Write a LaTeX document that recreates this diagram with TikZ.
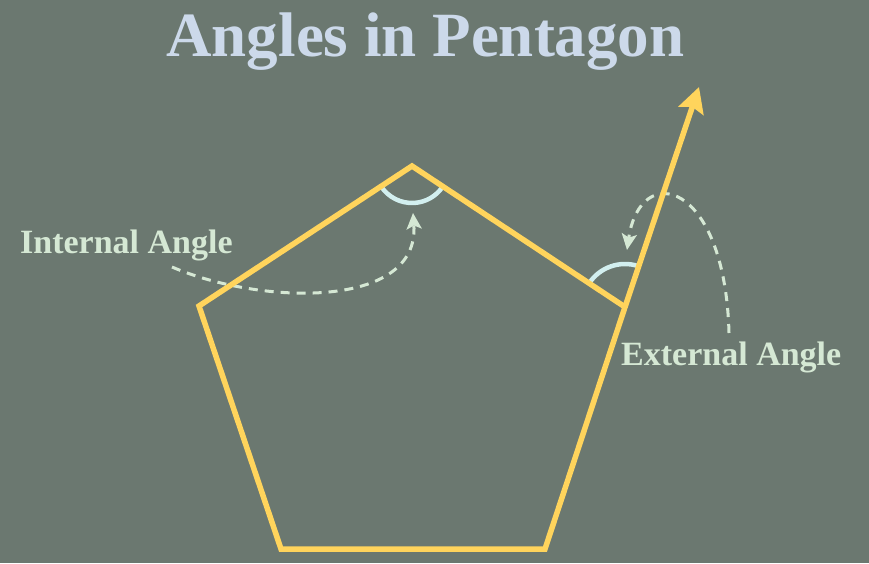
\documentclass[tikz,border=0pt]{standalone}
\usepackage{fontspec}
\setmainfont{Liberation Serif}
\usetikzlibrary{arrows.meta}
\definecolor{bg}{HTML}{6B7870}
\definecolor{titlec}{HTML}{CCD9EA}
\definecolor{labelc}{HTML}{D5E8D4}
\definecolor{yel}{HTML}{FFD45C}
\definecolor{arcc}{HTML}{D2EFEF}
\begin{document}
\begin{tikzpicture}[x=1pt,y=1pt,
  edge/.style={yel,line width=5.5pt,line join=miter},
  anglearc/.style={arcc,line width=4.5pt},
  pointer/.style={labelc,line width=3pt,dash pattern=on 9pt off 7pt,
     -{Stealth[length=16pt,width=15pt,inset=3.5pt,sep=0pt]}},
  lbl/.style={labelc,font=\fontsize{34}{36}\selectfont\bfseries,inner sep=0pt,anchor=base west},
  ttl/.style={titlec,font=\fontsize{63}{66}\selectfont\bfseries,inner sep=0pt,anchor=base}]
\useasboundingbox[fill=bg] (0,0) rectangle (869,563);
% vertices
\coordinate (T) at (412,397);
\coordinate (L) at (199,257);
\coordinate (BL) at (281,14);
\coordinate (BR) at (545,14);
\coordinate (R) at (625,256);
\coordinate (Tip) at (699,476);
% labels
\node[ttl] (title) at (425.5,506) {Angles in Pentagon};
\node[lbl] (intl) at (20,310) {Internal Angle};
\node[lbl] (extl) at (621,198) {External Angle};
% curve end points
\coordinate (is) at (172,296);
\coordinate (ie) at (413,350);
\coordinate (es) at (729,230);
\coordinate (ee) at (627,313);
% angle arcs
\draw[anglearc] ([shift={(213.3:37)}]T) arc[start angle=213.3,end angle=326.5,radius=37];
\draw[anglearc] ([shift={(71.7:43)}]R) arc[start angle=71.7,end angle=146.5,radius=43];
% dashed pointers
\draw[pointer] (is) .. controls (260,258) and (420,253) .. (ie);
\draw[pointer] (es) .. controls (725,383) and (640,403) .. (ee);
% pentagon
\draw[edge] (T) -- (L) -- (BL) -- (BR) -- (R) -- cycle;
% extension arrow
\draw[edge,-{Stealth[length=25pt,width=26pt,inset=4pt]}] (R) -- (Tip);
\end{tikzpicture}
\end{document}
